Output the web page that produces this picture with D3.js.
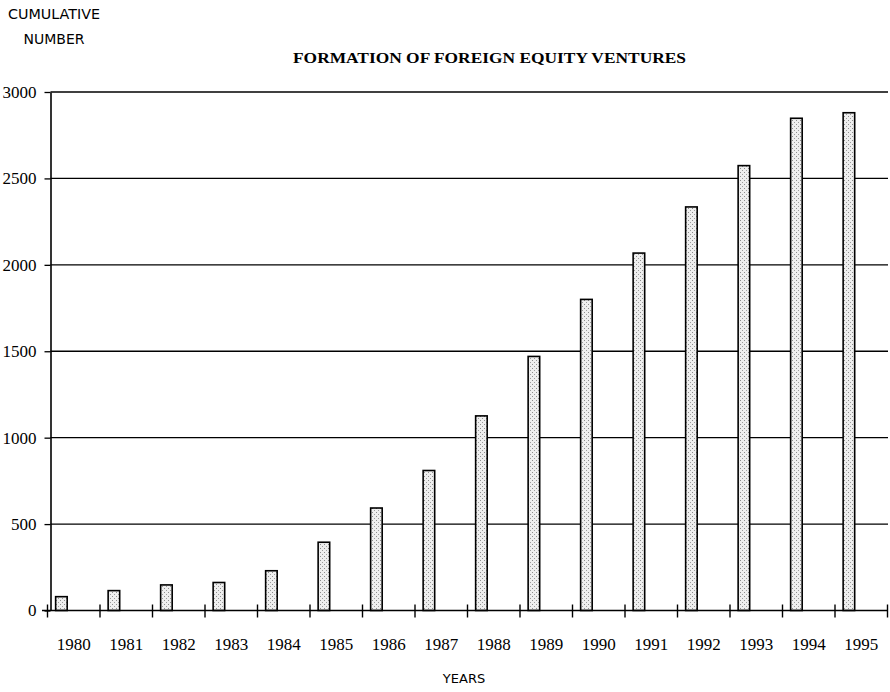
<!DOCTYPE html>
<html>
<head>
<meta charset="utf-8">
<script src="https://cdn.jsdelivr.net/npm/d3@7"></script>
<style>
  body { margin: 0; background: #fff; }
  svg { display: block; }
</style>
</head>
<body>
<div id="chart"></div>
<script>
// Cumulative number of foreign equity ventures
const years = ["1980", "1981", "1982", "1983", "1984", "1985", "1986", "1987",
               "1988", "1989", "1990", "1991", "1992", "1993", "1994", "1995"];
const cumulative = [80, 115, 148, 162, 230, 395, 593, 810,
                    1126, 1470, 1800, 2068, 2335, 2574, 2848, 2880];
const yTicks = [0, 500, 1000, 1500, 2000, 2500, 3000];

const data = years.map((y, i) => ({ year: y, value: cumulative[i] }));

const W = 890, H = 692;
const serif = "'Liberation Serif', 'Times New Roman', serif";
const sans = "'DejaVu Sans', sans-serif";

const svg = d3.select("#chart").append("svg")
    .attr("width", W).attr("height", H);

// stippled grey fill like the printed bars
const defs = svg.append("defs");
const pat = defs.append("pattern")
    .attr("id", "stipple")
    .attr("width", 4).attr("height", 4)
    .attr("patternUnits", "userSpaceOnUse");
pat.append("rect").attr("width", 4).attr("height", 4).attr("fill", "#eeeeee");
pat.append("rect").attr("x", 0).attr("y", 0).attr("width", 1).attr("height", 1).attr("fill", "#8c8c8c");
pat.append("rect").attr("x", 2).attr("y", 2).attr("width", 1).attr("height", 1).attr("fill", "#9c9c9c");

const x = d3.scaleBand()
    .domain(years)
    .range([47.5, 887.5])
    .padding(0);

const y = d3.scaleLinear()
    .domain([0, 3000])
    .range([610.5, 92]);

const axisLeftX = 50.5;

// gridlines
svg.append("g")
  .selectAll("line")
  .data(yTicks.filter(d => d > 0))
  .join("line")
    .attr("x1", axisLeftX).attr("x2", 888)
    .attr("y1", d => y(d)).attr("y2", d => y(d))
    .attr("stroke", "#000").attr("stroke-width", 1.3);

// y axis
const yAxis = svg.append("g")
    .attr("transform", `translate(${axisLeftX},0)`)
    .call(d3.axisLeft(y).tickValues(yTicks).tickFormat(d3.format("d"))
        .tickSize(6).tickPadding(8).tickSizeOuter(0));
yAxis.attr("font-family", null).attr("font-size", null);
yAxis.select(".domain").attr("stroke", "#000").attr("stroke-width", 1.6);
yAxis.selectAll(".tick line").attr("stroke", "#000").attr("stroke-width", 1.3);
yAxis.selectAll(".tick text")
    .style("font-family", serif)
    .style("font-size", "17px")
    .attr("fill", "#000");

// bars
const bw = x.bandwidth();
svg.append("g")
  .selectAll("rect")
  .data(data)
  .join("rect")
    .attr("x", d => x(d.year) + bw * 0.155)
    .attr("width", bw * 0.22)
    .attr("y", d => y(d.value))
    .attr("height", d => y(0) - y(d.value))
    .attr("fill", "url(#stipple)")
    .attr("stroke", "#000")
    .attr("stroke-width", 1.6);

// x axis
const xAxis = svg.append("g")
    .attr("transform", `translate(0,${y(0)})`)
    .call(d3.axisBottom(x).tickSize(0).tickPadding(27).tickSizeOuter(0));
xAxis.attr("font-family", null).attr("font-size", null);
xAxis.select(".domain").remove();
xAxis.append("line")
    .attr("x1", 42).attr("x2", 888)
    .attr("stroke", "#000").attr("stroke-width", 1.6);
xAxis.selectAll(".tick text")
    .style("font-family", serif)
    .style("font-size", "17px")
    .attr("fill", "#000");
// category boundary ticks crossing the axis
const bounds = years.map(d => x(d)).concat([x(years[years.length - 1]) + bw]);
xAxis.append("g")
  .selectAll("line")
  .data(bounds)
  .join("line")
    .attr("x1", d => d).attr("x2", d => d)
    .attr("y1", -6).attr("y2", 7)
    .attr("stroke", "#000").attr("stroke-width", 1.4);

// titles
svg.append("text")
    .attr("x", 489.5).attr("y", 63)
    .attr("text-anchor", "middle")
    .style("font-family", serif)
    .style("font-weight", "bold")
    .style("font-size", "15px")
    .attr("textLength", 393)
    .attr("lengthAdjust", "spacingAndGlyphs")
    .text("FORMATION OF FOREIGN EQUITY VENTURES");

svg.append("text")
    .attr("x", 54).attr("y", 19)
    .attr("text-anchor", "middle")
    .style("font-family", sans)
    .style("font-size", "14px")
    .attr("textLength", 92)
    .attr("lengthAdjust", "spacingAndGlyphs")
    .text("CUMULATIVE");
svg.append("text")
    .attr("x", 54).attr("y", 44)
    .attr("text-anchor", "middle")
    .style("font-family", sans)
    .style("font-size", "14px")
    .text("NUMBER");

svg.append("text")
    .attr("x", 464).attr("y", 683)
    .attr("text-anchor", "middle")
    .style("font-family", sans)
    .style("font-size", "13px")
    .text("YEARS");
</script>
</body>
</html>
